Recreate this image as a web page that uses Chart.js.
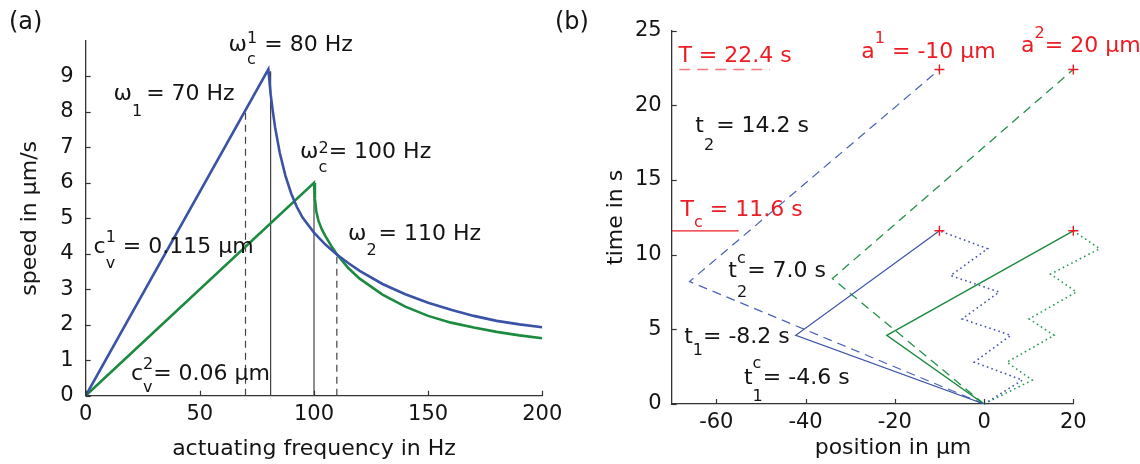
<!DOCTYPE html>
<html>
<head>
<meta charset="utf-8">
<script src="https://cdn.jsdelivr.net/npm/chart.js@4/dist/chart.umd.min.js"></script>
<style>
  html, body { margin: 0; padding: 0; background: #fff; }
  #wrap { position: relative; width: 1140px; height: 464px; overflow: hidden; }
  #chartA { position: absolute; left: 0; top: 0; }
  #chartB { position: absolute; left: 540px; top: 0; }
</style>
</head>
<body>
<div id="wrap">
  <canvas id="chartA" width="600" height="464"></canvas>
  <canvas id="chartB" width="600" height="464"></canvas>
</div>
<script>
// (a) speed against actuating frequency
const freqBlue = [0, 80, 81, 82, 83, 85, 87.5, 90, 92.5, 95, 100, 105, 110, 115, 120, 130, 140, 150, 160, 170, 180, 190, 200];
const speedBlue = [0, 9.2, 8.5, 8.0, 7.55, 6.85, 6.2, 5.7, 5.32, 5.02, 4.6, 4.26, 3.98, 3.74, 3.52, 3.15, 2.86, 2.62, 2.42, 2.25, 2.11, 2.01, 1.93];
const freqGreen = [0, 100, 100.4, 101, 102, 103.5, 105, 107.5, 110, 115, 120, 130, 140, 150, 160, 170, 180, 190, 200];
const speedGreen = [0, 6.0, 5.55, 5.2, 4.92, 4.68, 4.5, 4.23, 3.99, 3.6, 3.3, 2.85, 2.51, 2.25, 2.06, 1.92, 1.8, 1.7, 1.62];
const dashedGuideFreq = [70, 110];
const dashedGuideTop = [8.05, 3.98];
const solidGuideFreq = [81, 100];
const solidGuideTop = [9.15, 6.0];
const freqTicks = [0, 50, 100, 150, 200];
const speedTicks = [0, 1, 2, 3, 4, 5, 6, 7, 8, 9];

// (b) time against position
const posBlueSolid = [0, -42.2, -10];
const timeBlueSolid = [0, 4.6, 11.6];
const posBlueDashed = [0, -66, -10];
const timeBlueDashed = [0, 8.2, 22.4];
const posGreenSolid = [0, -21.8, 20];
const timeGreenSolid = [0, 4.6, 11.6];
const posGreenDashed = [0, -34, 20];
const timeGreenDashed = [0, 8.4, 22.4];
const posBlueDotted = [0, 8.6, -2.2, 6.0, -4.9, 3.4, -7.5, 0.8, -10];
const timeBlueDotted = [0, 1.6, 2.8, 4.6, 5.7, 7.5, 8.6, 10.4, 11.6];
const posGreenDotted = [0, 10.8, 5.1, 15.7, 10.1, 20.7, 14.9, 25.9, 20];
const timeGreenDotted = [0, 1.6, 2.8, 4.6, 5.7, 7.5, 8.7, 10.4, 11.6];
const endPos = [-10, 20, -10, 20];
const endTime = [22.4, 22.4, 11.6, 11.6];
const periodLinePos = [-68.3, -48];
const periodLineTime = [22.4, 22.4];
const cycleLinePos = [-70, -55];
const cycleLineTime = [11.6, 11.6];
const posTicks = [-60, -40, -20, 0, 20];
const timeTicks = [0, 5, 10, 15, 20, 25];

const FONT = '"DejaVu Sans", "Liberation Sans", sans-serif';
const INK = '#141414';
const AXIS = '#333333';
const BLUE = '#3b53a6';
const GREEN = '#1c8b40';
const RED = '#ec1c24';

const pts = (xs, ys) => xs.map((x, i) => ({ x: x, y: ys[i] }));
const guides = (xs, tops) => xs.flatMap((x, i) => [{ x: x, y: 0 }, { x: x, y: tops[i] }, { x: x, y: null }]);

function line(data, color, width, dash, extra) {
  return Object.assign({
    data: data, showLine: true, borderColor: color, borderWidth: width,
    borderDash: dash || [], pointRadius: 0, tension: 0, spanGaps: false
  }, extra || {});
}

// tick marks drawn inwards, MATLAB style
const inwardTicks = {
  id: 'inwardTicks',
  afterDatasetsDraw(chart) {
    const { ctx, chartArea, scales: { x, y } } = chart;
    ctx.save();
    ctx.strokeStyle = AXIS;
    ctx.lineWidth = 1.2;
    x.ticks.forEach(t => {
      const px = Math.round(x.getPixelForValue(t.value)) + 0.5;
      ctx.beginPath(); ctx.moveTo(px, chartArea.bottom); ctx.lineTo(px, chartArea.bottom - 5); ctx.stroke();
    });
    y.ticks.forEach(t => {
      const py = Math.round(y.getPixelForValue(t.value)) + 0.5;
      ctx.beginPath(); ctx.moveTo(chartArea.left, py); ctx.lineTo(chartArea.left + 5, py); ctx.stroke();
    });
    ctx.restore();
  }
};

// text with TeX-like sub / superscripts
function texPlugin(id, labels) {
  return {
    id: id,
    afterDraw(chart) {
      const { ctx, scales: { x, y } } = chart;
      ctx.save();
      ctx.textAlign = 'left';
      labels.forEach(lab => {
        let px = lab.px !== undefined ? lab.px : x.getPixelForValue(lab.x);
        const py = lab.py !== undefined ? lab.py : y.getPixelForValue(lab.y);
        const size = lab.size || 22;
        ctx.fillStyle = lab.color || INK;
        ctx.textBaseline = lab.baseline || 'alphabetic';
        if (lab.center) ctx.textAlign = 'center';
        lab.runs.forEach(r => {
          if (typeof r === 'string') {
            ctx.font = size + 'px ' + FONT;
            ctx.fillText(r, px, py);
            px += ctx.measureText(r).width;
          } else {
            ctx.font = '16px ' + FONT;
            let w = 0;
            if (r.sup) { ctx.fillText(r.sup, px, py + (r.supDy || -10)); w = Math.max(w, ctx.measureText(r.sup).width); }
            if (r.sub) { ctx.fillText(r.sub, px, py + (r.subDy || 14)); w = Math.max(w, ctx.measureText(r.sub).width); }
            px += w + (r.gap || 0);
          }
        });
        ctx.textAlign = 'left';
      });
      ctx.restore();
    }
  };
}

function axisOpts(min, max, tickVals, fitSize, horizontal, tickPad, title) {
  return {
    type: 'linear', min: min, max: max,
    afterBuildTicks: s => { s.ticks = tickVals.map(v => ({ value: v })); },
    afterFit: s => {
      if (horizontal) { s.height = fitSize; s.paddingLeft = 0; s.paddingRight = 0; }
      else { s.width = fitSize; s.paddingTop = 0; s.paddingBottom = 0; }
    },
    grid: { display: true, drawOnChartArea: false, drawTicks: false },
    border: { display: true, color: AXIS, width: 1.3 },
    ticks: { color: INK, font: { family: FONT, size: 21 }, padding: tickPad, autoSkip: false, maxRotation: 0 },
    title: title
  };
}

const common = {
  responsive: false, animation: false, events: [],
  plugins: { legend: { display: false }, tooltip: { enabled: false } }
};

new Chart(document.getElementById('chartA'), {
  type: 'scatter',
  data: {
    datasets: [
      line(pts(freqBlue, speedBlue), BLUE, 2.6),
      line(pts(freqGreen, speedGreen), GREEN, 2.6),
      line(guides(solidGuideFreq, solidGuideTop), '#444', 1.2),
      line(guides(dashedGuideFreq, dashedGuideTop), '#444', 1.2, [7, 5])
    ]
  },
  options: Object.assign({}, common, {
    layout: { padding: { left: 0, right: 57.7, top: 41, bottom: 0 } },
    scales: {
      x: axisOpts(0, 200, freqTicks, 68.3, true, 6,
        { display: true, text: 'actuating frequency in Hz', color: INK, font: { family: FONT, size: 22 }, padding: { top: 0, bottom: 2 } }),
      y: axisOpts(0, 10, speedTicks, 85.7, false, 12,
        { display: true, text: 'speed in µm/s', color: INK, font: { family: FONT, size: 22 }, padding: { top: 17, bottom: 0 } })
    }
  }),
  plugins: [inwardTicks, texPlugin('texA', [
    { px: 9, py: 29, size: 24, runs: ['(a)'] },
    { x: 62.6, y: 9.71, runs: ['ω', { sub: 'c', sup: '1', subDy: 13, supDy: -8 }, ' = 80 Hz'] },
    { x: 12.2, y: 8.35, runs: ['ω', { sub: '1', subDy: 16, gap: 4 }, '= 70 Hz'] },
    { x: 93.9, y: 6.71, runs: ['ω', { sub: 'c', sup: '2', subDy: 14, supDy: -5 }, '= 100 Hz'] },
    { x: 114.9, y: 4.39, runs: ['ω', { sub: '2', subDy: 15, gap: 2 }, '= 110 Hz'] },
    { x: 3.46, y: 4.03, runs: ['c', { sub: 'v', sup: '1', subDy: 15, supDy: -11 }, ' = 0.115 µm'] },
    { x: 19.8, y: 0.44, runs: ['c', { sub: 'v', sup: '2', subDy: 12, supDy: -11 }, '= 0.06 µm'] }
  ])]
});

new Chart(document.getElementById('chartB'), {
  type: 'scatter',
  data: {
    datasets: [
      { data: pts(endPos, endTime), pointStyle: 'cross', pointRadius: 5, pointBorderColor: RED, pointBorderWidth: 1.4, showLine: false, clip: false },
      line(pts(cycleLinePos, cycleLineTime), RED, 1.3),
      line(pts(periodLinePos, periodLineTime), '#f27a80', 1.3, [11, 7]),
      line(pts(posBlueSolid, timeBlueSolid), BLUE, 1.2),
      line(pts(posGreenSolid, timeGreenSolid), GREEN, 1.4),
      line(pts(posBlueDashed, timeBlueDashed), '#4a63b8', 1.2, [9, 6]),
      line(pts(posGreenDashed, timeGreenDashed), '#23924a', 1.3, [9, 6]),
      line(pts(posBlueDotted, timeBlueDotted), '#4257b2', 1.6, [1.6, 3.2], { clip: false }),
      line(pts(posGreenDotted, timeGreenDotted), '#2a9a55', 1.6, [1.6, 3.2], { clip: false })
    ]
  },
  options: Object.assign({}, common, {
    layout: { padding: { left: 0, right: 66.7, top: 30.7, bottom: 0 } },
    scales: {
      x: axisOpts(-70, 20, posTicks, 60, true, 6, { display: false }),
      y: axisOpts(0, 25, timeTicks, 131.7, false, 10,
        { display: true, text: 'time in s', color: INK, font: { family: FONT, size: 22 }, padding: { top: 62.8, bottom: 0 } })
    }
  }),
  plugins: [inwardTicks, texPlugin('texB', [
    { px: 15, py: 29, size: 24, runs: ['(b)'] },
    { px: 353, py: 448, baseline: 'middle', center: true, runs: ['position in µm'] },
    { x: -68.5, y: 22.9, color: RED, runs: ['T = 22.4 s'] },
    { x: -27.5, y: 23.2, color: RED, runs: ['a', { sup: '1', supDy: -15 }, ' = -10 µm'] },
    { x: 8.3, y: 23.6, color: RED, runs: ['a', { sup: '2', supDy: -14 }, '= 20 µm'] },
    { x: -64.7, y: 18.2, runs: ['t', { sub: '2', subDy: 18, gap: 2 }, '= 14.2 s'] },
    { x: -68.0, y: 12.56, color: RED, runs: ['T', { sub: 'c', subDy: 11 }, ' = 11.6 s'] },
    { x: -57.3, y: 8.5, runs: ['t', { sub: '2', sup: 'c', subDy: 20, supDy: -14 }, '= 7.0 s'] },
    { x: -67.2, y: 4.1, runs: ['t', { sub: '1', subDy: 12 }, '= -8.2 s'] },
    { x: -53.8, y: 1.33, runs: ['t', { sub: '1', sup: 'c', subDy: 17, supDy: -16 }, '= -4.6 s'] }
  ])]
});
</script>
</body>
</html>
